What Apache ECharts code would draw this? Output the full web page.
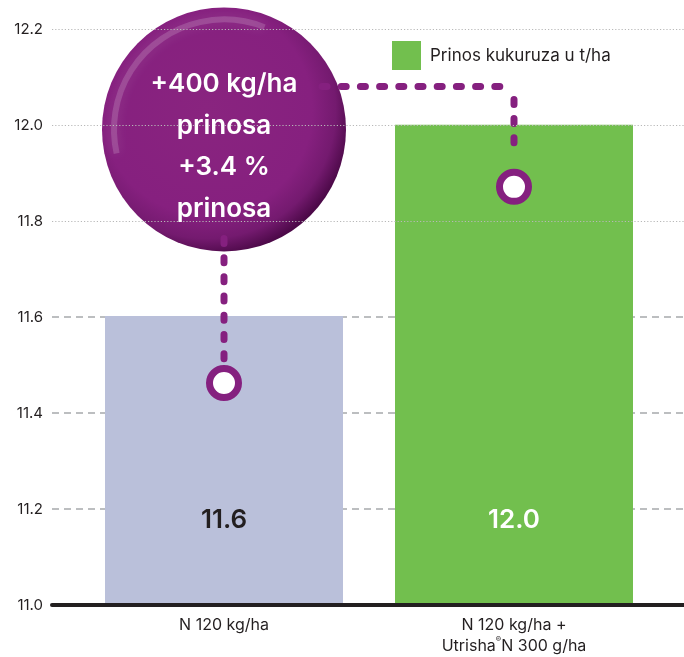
<!DOCTYPE html>
<html>
<head>
<meta charset="utf-8">
<script src="https://cdn.jsdelivr.net/npm/echarts@6/dist/echarts.min.js"></script>
<style>html,body{margin:0;padding:0;background:#fff}#c{width:684px;height:657px}</style>
</head>
<body>
<div id="c"></div>
<script>
// ---- data ----
const categories = ['N 120 kg/ha', 'N 120 kg/ha +\nUtrisha®N 300 g/ha'];
const yieldValues = [11.6, 12.0];
const seriesName = 'Prinos kukuruza u t/ha';
const yMin = 11.0, yMax = 12.2, yInterval = 0.2;
const calloutLines = ['+400 kg/ha', 'prinosa', '+3.4 %', 'prinosa'];
const markerValues = [11.46, 11.87];      // ring markers on each bar
const bubbleValue = 11.99;                 // callout bubble centre (category 0)
const connectorValue = 12.08;              // level of horizontal connector

const FONT = 'Inter';
const INK = '#231f20';
const PURPLE = '#85207f';
const T = 'rgba(0,0,0,0)';
const GRAY_DASH = '#a7a9ac';
const GRAY_DOT = '#b8b8b8';

const chart = echarts.init(document.getElementById('c'), null, {renderer: 'canvas'});

const nTicks = Math.round((yMax - yMin) / yInterval) + 1;
const dashColors = [], dotColors = [];
for (let i = 0; i < nTicks; i++) {
  const v = yMin + i * yInterval;
  dashColors.push(i > 0 && v < 11.7 ? GRAY_DASH : T);
  dotColors.push(v > 11.7 ? GRAY_DOT : T);
}

const option = {
  animation: false,
  textStyle: {fontFamily: FONT},
  grid: [
    {left: 79, right: 25, top: 29, bottom: 52},
    {left: 52, right: 0, top: 29, bottom: 52}
  ],
  legend: {
    data: [seriesName],
    left: 392, top: 41, padding: 0,
    itemWidth: 29, itemHeight: 29, icon: 'rect',
    textStyle: {fontFamily: FONT, fontSize: 17, color: INK, padding: [0, 0, 0, 4]}
  },
  xAxis: [
    {
      type: 'category', gridIndex: 0, data: categories,
      axisLine: {show: false}, axisTick: {show: false},
      axisLabel: {
        interval: 0, hideOverlap: false,
        margin: 12, color: INK, fontFamily: FONT, fontSize: 16, lineHeight: 21,
        formatter: v => v.split('\n').map(l => l.includes('®')
          ? '{a|' + l.split('®')[0] + '}{s|®}{a|' + l.split('®')[1] + '}'
          : '{a|' + l + '}').join('\n'),
        rich: {
          a: {fontFamily: FONT, fontSize: 16, color: INK, lineHeight: 21},
          s: {fontFamily: FONT, fontSize: 8, color: INK, lineHeight: 21, verticalAlign: 'top', padding: [0, 0, 6, 0]}
        }
      }
    },
    {
      type: 'value', gridIndex: 1, min: 0, max: 1,
      axisLine: {show: true, lineStyle: {color: INK, width: 4}},
      axisTick: {show: false}, axisLabel: {show: false}, splitLine: {show: false}
    }
  ],
  yAxis: [
    {type: 'value', gridIndex: 0, min: yMin, max: yMax, interval: yInterval, show: false},
    {
      type: 'value', gridIndex: 1, min: yMin, max: yMax, interval: yInterval,
      axisLine: {show: false}, axisTick: {show: false},
      axisLabel: {margin: 9, color: INK, fontFamily: FONT, fontSize: 15, formatter: v => v.toFixed(1)},
      splitLine: {show: true, lineStyle: {color: dashColors, width: 1.5, type: [7, 5]}}
    },
    {
      type: 'value', gridIndex: 1, min: yMin, max: yMax, interval: yInterval, z: 5,
      axisLine: {show: false}, axisTick: {show: false}, axisLabel: {show: false},
      splitLine: {show: true, lineStyle: {color: dotColors, width: 1.2, type: [1.2, 2]}}
    }
  ],
  series: [
    {
      name: seriesName, type: 'bar', xAxisIndex: 0, yAxisIndex: 0, barWidth: 238, z: 2,
      itemStyle: {color: '#72bf4e'},
      data: yieldValues.map((v, i) => i === 0
        ? {value: v, itemStyle: {color: '#bac0da'}, label: {color: INK}}
        : {value: v, label: {color: '#ffffff'}}),
      label: {
        show: true, position: 'insideBottom', distance: 70,
        fontFamily: FONT, fontSize: 26, fontWeight: 600,
        formatter: p => p.value.toFixed(1)
      }
    },
    {
      type: 'scatter', xAxisIndex: 0, yAxisIndex: 0, z: 8, silent: true,
      symbol: 'circle', symbolSize: 29,
      itemStyle: {color: '#ffffff', borderColor: PURPLE, borderWidth: 7, opacity: 1},
      data: markerValues.map((v, i) => [i, v])
    }
  ]
};
chart.setOption(option);

// ---- callout bubble & connectors, positioned through the axes ----
const px = (x, y) => chart.convertToPixel({xAxisIndex: 0, yAxisIndex: 0}, [x, y]);
const c = px(0, bubbleValue);
const R = 122;
const m0 = px(0, markerValues[0]);
const m1 = px(1, markerValues[1]);
const hY = px(0, connectorValue)[1];
const dash = {stroke: PURPLE, lineWidth: 7, lineCap: 'round', lineDash: [5, 14.2]};

const graphics = [
  {
    type: 'circle', z: 1, silent: true,
    shape: {cx: c[0], cy: c[1], r: R},
    style: {
      fill: new echarts.graphic.RadialGradient(0.43, 0.42, 0.6, [
        {offset: 0, color: '#89247f'},
        {offset: 0.72, color: '#86207f'},
        {offset: 0.88, color: '#741a6f'},
        {offset: 1, color: '#4c0948'}
      ])
    }
  },
  {
    type: 'arc', z: 1, silent: true,
    shape: {cx: c[0], cy: c[1], r: R - 12, startAngle: Math.PI * 0.93, endAngle: Math.PI * 1.62, clockwise: true},
    style: {stroke: 'rgba(255,255,255,0.16)', lineWidth: 6, fill: null, shadowBlur: 12, shadowColor: 'rgba(255,255,255,0.7)'}
  },
  // horizontal connector from bubble to above bar 2
  {type: 'line', z: 3, silent: true, shape: {x1: c[0] + 98, y1: hY, x2: m1[0] - 12, y2: hY}, style: dash},
  // vertical connector down to the bar-2 marker
  {type: 'line', z: 3, silent: true, shape: {x1: m1[0], y1: hY + 13, x2: m1[0], y2: m1[1] - 38}, style: dash},
  // vertical connector from bubble down to the bar-1 marker
  {type: 'line', z: 3, silent: true, shape: {x1: c[0], y1: c[1] + 109, x2: c[0], y2: m0[1] - 24}, style: dash}
];
calloutLines.forEach((t, i) => {
  graphics.push({
    type: 'text', z: 6, silent: true,
    x: c[0], y: c[1] - 45 + i * 41.5,
    style: {text: t, fill: '#ffffff', font: '600 26px ' + FONT, align: 'center', verticalAlign: 'middle'}
  });
});
chart.setOption({graphic: graphics});
</script>
</body>
</html>
